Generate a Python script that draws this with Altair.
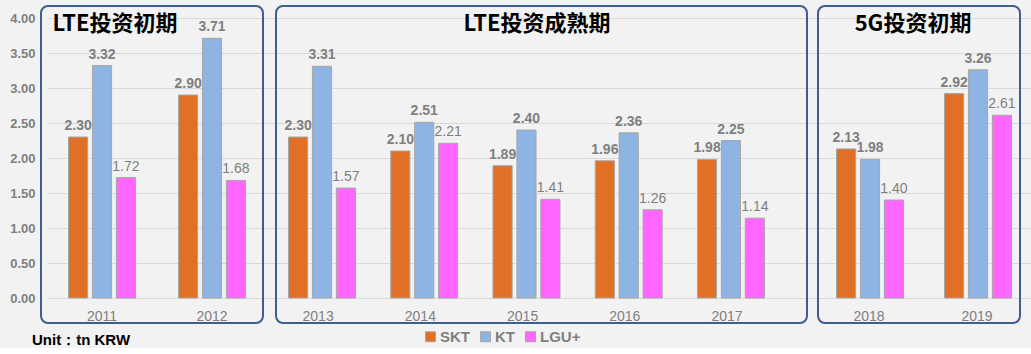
import altair as alt
import pandas as pd

years = ["2011", "2012", "2013", "2014", "2015", "2016", "2017", "2018", "2019"]
skt = [2.30, 2.90, 2.30, 2.10, 1.89, 1.96, 1.98, 2.13, 2.92]
kt = [3.32, 3.71, 3.31, 2.51, 2.40, 2.36, 2.25, 1.98, 3.26]
lgu = [1.72, 1.68, 1.57, 2.21, 1.41, 1.26, 1.14, 1.40, 2.61]
phase = ["p1", "p1", "p2", "p2", "p2", "p2", "p2", "p3", "p3"]
companies = ["SKT", "KT", "LGU+"]
colors = ["#E07026", "#8EB4E3", "#FF66FF"]
titles = {"p1": "LTE投资初期", "p2": "LTE投资成熟期", "p3": "5G投资初期"}

rows = []
for i, y in enumerate(years):
    for c, vals in zip(companies, [skt, kt, lgu]):
        rows.append({"year": y, "company": c, "value": vals[i], "phase": phase[i]})
df = pd.DataFrame(rows)

GRAY = "#7F7F7F"
BOX = "#3B5F8F"
FONT = "Liberation Sans"
CJK = "Noto Sans CJK SC"

color = alt.Color(
    "company:N",
    scale=alt.Scale(domain=companies, range=colors),
    sort=companies,
    legend=alt.Legend(
        title=None, orient="none", direction="horizontal",
        legendX=376, legendY=311,
        symbolType="square", symbolSize=100, symbolStrokeWidth=1,
        symbolStrokeColor="#A6A6A6", symbolOpacity=1,
        labelFont=FONT, labelFontSize=15, labelFontWeight="bold",
        labelColor=GRAY, labelOffset=2, columnPadding=8,
    ),
)

yticks = [0, 0.5, 1, 1.5, 2, 2.5, 3, 3.5, 4]


def panel(ph, width, xscale, box, title_x, show_y, extras=None):
    base = alt.Chart(df).transform_filter(alt.datum.phase == ph)
    yaxis = alt.Axis(
        values=yticks, format=".2f", grid=True, gridColor="#D9D9D9",
        domain=False, ticks=False, labels=show_y,
        labelFont=FONT, labelFontSize=13, labelFontWeight="bold",
        labelColor=GRAY, labelPadding=12, title=None,
    )
    xenc = alt.X("year:N", title=None, scale=xscale,
                 axis=alt.Axis(domain=False, ticks=False, labelAngle=0,
                               labelFont=FONT, labelFontSize=14,
                               labelColor=GRAY, labelPadding=11))
    xoff = alt.XOffset("company:N", sort=companies,
                       scale=alt.Scale(domain=companies, paddingInner=0.2, paddingOuter=0.9))
    yenc = alt.Y("value:Q", scale=alt.Scale(domain=[0, 4], nice=False), axis=yaxis)
    bars = base.mark_bar(stroke="#A6A6A6", strokeWidth=1).encode(
        x=xenc, xOffset=xoff, y=yenc, color=color
    )
    lab_b = base.transform_filter(alt.datum.company != "LGU+").mark_text(
        baseline="bottom", dy=-4, font=FONT, fontSize=14, fontWeight="bold", color=GRAY
    ).encode(x=xenc, xOffset=xoff, y=yenc, text=alt.Text("value:Q", format=".2f"))
    lab_n = base.transform_filter(alt.datum.company == "LGU+").mark_text(
        baseline="bottom", dy=-4, font=FONT, fontSize=14, color=GRAY
    ).encode(x=xenc, xOffset=xoff, y=yenc, text=alt.Text("value:Q", format=".2f"))
    one = alt.Data(values=[{"t": titles[ph]}])
    frame = alt.Chart(one).mark_rect(
        fillOpacity=0, stroke=BOX, strokeWidth=2, cornerRadius=7
    ).encode(x=alt.value(box[0]), x2=alt.value(box[1]), y=alt.value(-12), y2=alt.value(305))
    title = alt.Chart(one).mark_text(
        font=CJK, fontSize=22, fontWeight="bold", color="#000000", baseline="middle"
    ).encode(x=alt.value(title_x), y=alt.value(6), text="t:N")
    layers = [bars, lab_b, lab_n, frame, title]
    if extras:
        layers += extras
    return alt.layer(*layers).properties(width=width, height=280)


unit = alt.Chart(alt.Data(values=[{"u": "Unit：tn KRW"}])).mark_text(
    font=FONT, fontSize=15, fontWeight="bold", color="#000000", align="left", baseline="middle"
).encode(x=alt.value(-15), y=alt.value(322), text="u:N")
anchor = alt.Chart(alt.Data(values=[{"a": 1}])).mark_rect(opacity=0).encode(
    x=alt.value(-47), x2=alt.value(0), y=alt.value(-18), y2=alt.value(0)
)

p1 = panel("p1", 220, alt.Scale(paddingInner=0, paddingOuter=0), (-6, 216), 68, True,
           extras=[unit, anchor])
p2 = panel("p2", 548, alt.Scale(paddingInner=0, paddingOuter=0.18, align=0), (9, 540), 270, False)
p3 = panel("p3", 216, alt.Scale(paddingInner=0, paddingOuter=0), (3, 205), 98, False)

chart = alt.hconcat(p1, p2, p3, spacing=0, bounds="flush").properties(
    padding={"left": 0, "top": 0, "right": 0, "bottom": 0},
    background="#F2F2F2",
).resolve_scale(x="independent").configure_view(strokeWidth=0)

chart.save("out.html", embed_options={"renderer": "svg", "actions": False})
